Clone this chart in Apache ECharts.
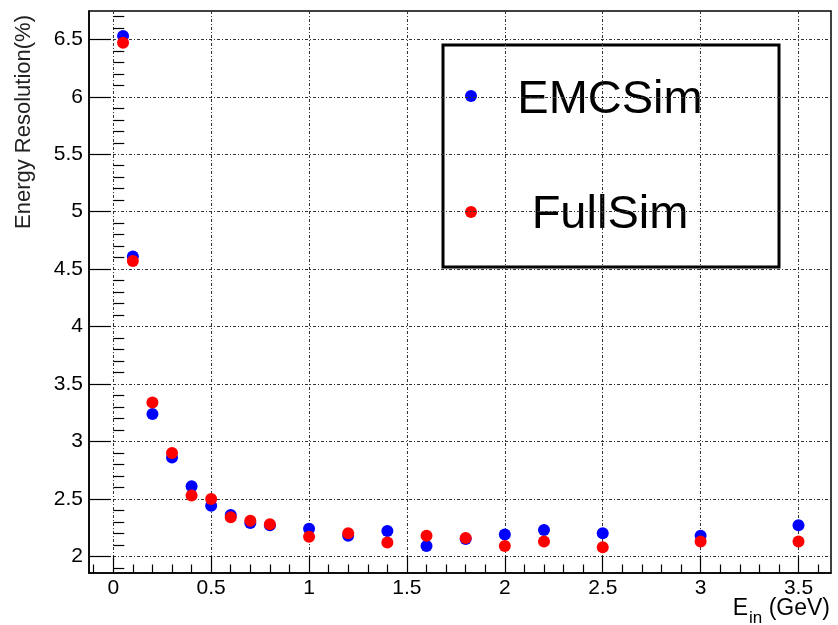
<!DOCTYPE html>
<html>
<head>
<meta charset="utf-8">
<script src="https://cdn.jsdelivr.net/npm/echarts@6/dist/echarts.min.js"></script>
<style>
  html, body { margin: 0; padding: 0; background: #fff; }
  #chart { width: 838px; height: 625px; }
</style>
</head>
<body>
<div id="chart"></div>
<script>
// beam energy (GeV)
const energies = [0.05, 0.1, 0.2, 0.3, 0.4, 0.5, 0.6, 0.7, 0.8, 1.0, 1.2, 1.4, 1.6, 1.8, 2.0, 2.2, 2.5, 3.0, 3.5];
// energy resolution (%)
const emcSim = [6.53, 4.61, 3.24, 2.86, 2.61, 2.44, 2.36, 2.29, 2.27, 2.24, 2.18, 2.22, 2.09, 2.15, 2.19, 2.23, 2.20, 2.18, 2.27];
const fullSim = [6.47, 4.57, 3.34, 2.90, 2.53, 2.50, 2.34, 2.31, 2.28, 2.17, 2.20, 2.12, 2.18, 2.16, 2.09, 2.13, 2.08, 2.13, 2.13];

const xMajor = [0, 0.5, 1, 1.5, 2, 2.5, 3, 3.5];
const yMajor = [2, 2.5, 3, 3.5, 4, 4.5, 5, 5.5, 6, 6.5];

// minor ticks every 0.1, skipping the majors
function minors(from, to) {
  const out = [];
  for (let i = Math.round(from * 10); i <= Math.round(to * 10); i++) {
    if (i % 5 !== 0) out.push(i / 10);
  }
  return out;
}
const xMinor = minors(-0.1, 3.6);
const yMinor = minors(1.9, 6.7);

const FONT = "'Liberation Sans', Arial, sans-serif";
const xRange = [-0.124, 3.666];
const yRange = [1.855, 6.747];

const gridLine = { show: true, lineStyle: { color: '#333', width: 1, type: [3, 2, 1, 2] } };

const chart = echarts.init(document.getElementById('chart'));
chart.setOption({
  animation: false,
  backgroundColor: '#fff',
  grid: {
    left: 89, right: 7, top: 11, bottom: 52,
    show: true, borderColor: '#000', borderWidth: 1.5,
    outerBoundsMode: 'none'
  },
  xAxis: [{
    type: 'value', min: xRange[0], max: xRange[1], splitNumber: 8,
    axisLine: { onZero: false, lineStyle: { color: '#000', width: 1.5 } },
    axisTick: { inside: true, length: 17, customValues: xMajor, lineStyle: { color: '#000', width: 1.2 } },
    axisLabel: { customValues: xMajor, color: '#000', fontSize: 21, fontFamily: FONT, margin: 5 },
    splitLine: gridLine
  }, {
    type: 'value', min: xRange[0], max: xRange[1], position: 'bottom',
    axisLine: { show: false },
    axisTick: { inside: true, length: 8.5, customValues: xMinor, lineStyle: { color: '#000', width: 1.2 } },
    axisLabel: { show: false },
    splitLine: { show: false }
  }],
  yAxis: [{
    type: 'value', min: yRange[0], max: yRange[1], splitNumber: 10,
    axisLine: { show: true, onZero: false, lineStyle: { color: '#000', width: 1.5 } },
    axisTick: { show: true, inside: true, length: 22, customValues: yMajor, lineStyle: { color: '#000', width: 1.2 } },
    axisLabel: { customValues: yMajor, color: '#000', fontSize: 21, fontFamily: FONT, margin: 6 },
    splitLine: gridLine
  }, {
    type: 'value', min: yRange[0], max: yRange[1], position: 'left',
    axisLine: { show: false },
    axisTick: { show: true, inside: true, length: 11, customValues: yMinor, lineStyle: { color: '#000', width: 1.2 } },
    axisLabel: { show: false },
    splitLine: { show: false }
  }],
  series: [{
    name: 'EMCSim', type: 'scatter', symbol: 'circle', symbolSize: 12,
    itemStyle: { color: '#0000ff', opacity: 1 },
    data: energies.map((e, i) => [e, emcSim[i]])
  }, {
    name: 'FullSim', type: 'scatter', symbol: 'circle', symbolSize: 12,
    itemStyle: { color: '#ff0000', opacity: 1 },
    data: energies.map((e, i) => [e, fullSim[i]])
  }],
  graphic: [
    {
      type: 'text', x: 24, y: 122, rotation: Math.PI / 2,
      style: { text: 'Energy Resolution(%)', fill: '#222', font: '22px ' + FONT, align: 'center', verticalAlign: 'middle' }
    },
    {
      type: 'text', right: 8, top: 597,
      style: {
        text: '{a|E}{b|in}{a| (GeV)}', fill: '#000',
        rich: {
          a: { fontSize: 23, fontFamily: FONT, lineHeight: 24, verticalAlign: 'top' },
          b: { fontSize: 17, fontFamily: FONT, lineHeight: 17, verticalAlign: 'top', padding: [13, 0, 0, 1] }
        }
      }
    },
    {
      type: 'group', z: 100,
      children: [
        { type: 'rect', shape: { x: 443, y: 45, width: 336, height: 222 }, style: { fill: '#fff', stroke: '#000', lineWidth: 3 } },
        { type: 'circle', shape: { cx: 471, cy: 96, r: 6 }, style: { fill: '#0000ff' } },
        { type: 'circle', shape: { cx: 471, cy: 212, r: 6 }, style: { fill: '#ff0000' } },
        { type: 'text', x: 610, y: 100, style: { text: 'EMCSim', fill: '#000', font: '47px ' + FONT, align: 'center', verticalAlign: 'middle' } },
        { type: 'text', x: 610, y: 215, style: { text: 'FullSim', fill: '#000', font: '47px ' + FONT, align: 'center', verticalAlign: 'middle' } }
      ]
    }
  ]
});
</script>
</body>
</html>
